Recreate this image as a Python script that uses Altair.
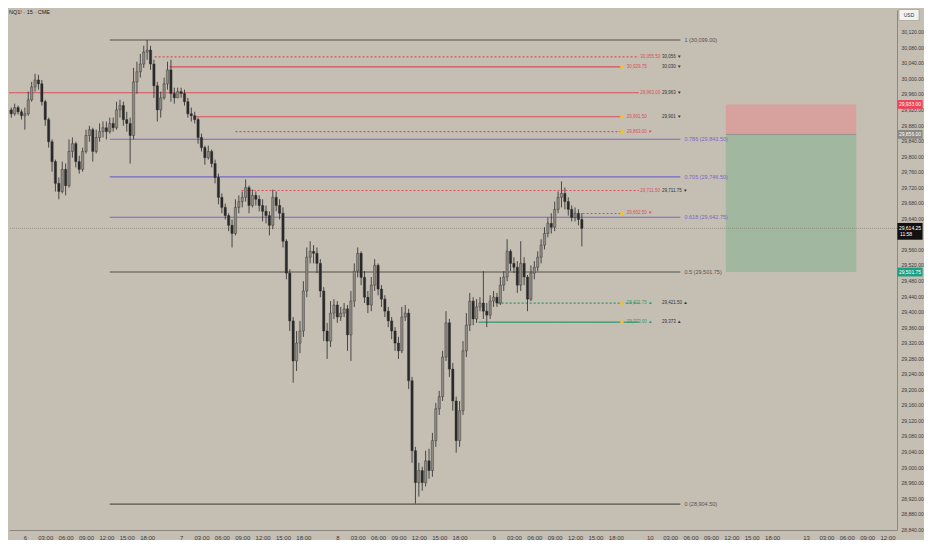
import json

import altair as alt
import pandas as pd

# ---- values -------------------------------------------------------------
# 30-min candles; x = trading hours since session "6" 00:00 (23h sessions)
bar_first_h = -2.5
bar_step_h = 0.5
first_open = 29909
bar_high = [
    29930, 29925, 29935, 29930, 29920, 29925, 29966, 29991, 30012, 30009,
    29996, 29945, 29899, 29843, 29791, 29745, 29786, 29781, 29843, 29848,
    29837, 29801, 29822, 29868, 29878, 29873, 29868, 29884, 29889, 29889,
    29899, 29899, 29940, 29945, 29940, 29914, 29899, 30027, 30043, 30063,
    30084, 30099, 30084, 30048, 29991, 29966, 30002, 30043, 30048, 29976,
    29976, 29976, 29971, 29950, 29925, 29914, 29899, 29858, 29827, 29827,
    29817, 29791, 29755, 29704, 29678, 29653, 29637, 29689, 29699, 29709,
    29740, 29724, 29714, 29709, 29699, 29689, 29673, 29658, 29714, 29709,
    29689, 29668, 29586, 29509, 29386, 29350, 29376, 29478, 29565, 29581,
    29571, 29565, 29535, 29463, 29371, 29427, 29432, 29427, 29412, 29422,
    29417, 29453, 29524, 29565, 29555, 29504, 29453, 29489, 29535, 29524,
    29468, 29442, 29412, 29386, 29360, 29335, 29412, 29417, 29407, 29232,
    29052, 29011, 29001, 29042, 29047, 29088, 29165, 29196, 29299, 29401,
    29381, 29268, 29181, 29170, 29324, 29396, 29448, 29437, 29432, 29437,
    29504, 29422, 29442, 29453, 29448, 29489, 29504, 29586, 29560, 29540,
    29530, 29581, 29540, 29494, 29519, 29530, 29555, 29586, 29617, 29642,
    29653, 29683, 29709, 29735, 29719, 29694, 29673, 29668, 29663, 29653,
]
bar_low = [
    29904, 29899, 29904, 29907, 29894, 29868, 29904, 29940, 29966, 29971,
    29930, 29878, 29822, 29760, 29709, 29689, 29704, 29699, 29719, 29796,
    29771, 29755, 29760, 29807, 29837, 29786, 29807, 29837, 29848, 29843,
    29858, 29863, 29868, 29899, 29878, 29863, 29781, 29843, 29961, 30002,
    30027, 30048, 30022, 29950, 29889, 29899, 29945, 29971, 29940, 29935,
    29950, 29950, 29930, 29899, 29889, 29884, 29832, 29812, 29778, 29791,
    29771, 29730, 29676, 29653, 29637, 29607, 29565, 29596, 29653, 29668,
    29683, 29653, 29668, 29673, 29658, 29632, 29627, 29596, 29612, 29658,
    29637, 29565, 29483, 29350, 29217, 29247, 29293, 29335, 29437, 29524,
    29524, 29499, 29437, 29324, 29278, 29309, 29381, 29371, 29376, 29386,
    29299, 29273, 29412, 29488, 29468, 29422, 29396, 29401, 29453, 29442,
    29412, 29386, 29360, 29329, 29299, 29278, 29293, 29376, 29201, 29011,
    28906, 28924, 28939, 28950, 28970, 28975, 29052, 29134, 29170, 29273,
    29232, 29145, 29037, 29052, 29134, 29283, 29350, 29365, 29371, 29401,
    29381, 29360, 29381, 29412, 29412, 29417, 29453, 29478, 29504, 29499,
    29448, 29453, 29468, 29401, 29427, 29483, 29504, 29524, 29560, 29591,
    29601, 29607, 29653, 29668, 29663, 29647, 29632, 29632, 29622, 29568,
]
bar_close = [
    29919, 29909, 29925, 29914, 29904, 29909, 29945, 29978, 29996, 29986,
    29940, 29894, 29837, 29786, 29730, 29709, 29766, 29724, 29812, 29832,
    29786, 29766, 29812, 29853, 29868, 29812, 29848, 29863, 29873, 29863,
    29884, 29873, 29919, 29930, 29894, 29884, 29853, 29991, 30017, 30037,
    30068, 30073, 30037, 29981, 29919, 29950, 29986, 30022, 29961, 29950,
    29966, 29961, 29940, 29909, 29904, 29894, 29848, 29822, 29796, 29812,
    29781, 29745, 29694, 29668, 29647, 29622, 29601, 29668, 29683, 29694,
    29719, 29673, 29699, 29689, 29673, 29658, 29647, 29622, 29694, 29673,
    29653, 29581, 29499, 29376, 29273, 29319, 29350, 29453, 29540, 29555,
    29550, 29524, 29453, 29350, 29324, 29396, 29417, 29386, 29396, 29407,
    29340, 29427, 29504, 29550, 29488, 29437, 29417, 29468, 29519, 29458,
    29432, 29401, 29376, 29350, 29319, 29299, 29386, 29396, 29222, 29042,
    28960, 28991, 28960, 29016, 28991, 29068, 29150, 29181, 29283, 29371,
    29252, 29170, 29068, 29145, 29299, 29365, 29427, 29381, 29412, 29422,
    29401, 29391, 29427, 29437, 29422, 29468, 29489, 29555, 29524, 29514,
    29468, 29524, 29489, 29432, 29499, 29514, 29540, 29571, 29601, 29627,
    29617, 29663, 29694, 29704, 29683, 29663, 29642, 29653, 29637, 29614.25,
]

fib_ratio = ["1", "0.786", "0.705", "0.618", "0.5", "0"]
fib_price = [30099.00, 29843.50, 29746.50, 29642.75, 29501.75, 28904.50]
fib_from_h, fib_to_h = 12.5, 96.5

level_price = [30055.50, 30029.75, 29963.00, 29901.50, 29863.00,
               29711.50, 29652.50, 29421.75, 29373.00]
level_from_h = [19.1, 21.3, -3.0, 24.9, 31.0, 31.9, 82.1, 69.6, 66.8]
level_to_h = [90.4, 87.8, 90.4, 87.8, 87.8, 90.4, 87.8, 90.4, 90.4]
level_side = ["sell"] * 7 + ["buy"] * 2
level_dotted = [True, False, False, False, True, True, True, True, False]
level_touched = [False, True, False, True, True, False, True, True, True]
level_tag = ["30,055.50", "30,029.75", "29,963.00", "29,901.50", "29,863.00 ▼",
             "29,711.50", "29,652.50 ▼", "29,421.75 ▲", "29,373.00 ▲"]
level_note = ["30,056 ▼", "30,030 ▼", "29,963 ▼", "29,901 ▼", "",
              "29,711.75 ▼", "", "29,421.50 ▲", "29,373 ▲"]

pos_from_h, pos_to_h = 103.2, 122.4
pos_stop, pos_entry, pos_target = 29933.00, 29856.00, 29501.75
last_price = 29614.25
countdown = "11:58"

day_labels = ["6", "7", "8", "9", "10", "13"]
hour_marks = [3, 6, 9, 12, 15, 18]
# 29,600 sits under the last-price tag in the reference, so it is not shown
price_ticks = [p for p in range(28840, 30121, 40) if p != 29600]

# ---- styling --------------------------------------------------------------
BG = "#c4beb3"
INK = "#2a2a2a"
UP = "#8f8a82"
RED = "#d9505b"
GREEN = "#2f9a6c"
PURPLE = "#7569c6"
FIBGREY = "#57534d"
FONT = "Liberation Sans"
W, H = 888, 520
X_DOM = [-1.6, 127.66]
Y_DOM = [28838, 30176]

XS = alt.Scale(domain=X_DOM, nice=False, zero=False)
YS = alt.Scale(domain=Y_DOM, nice=False, zero=False)

tick_h = [23 * d + hh for d in range(len(day_labels)) for hh in [0] + hour_marks]
tick_h = [t for t in tick_h if X_DOM[0] <= t <= X_DOM[1]]
label_expr = (
    f"datum.value % 23 == 0 ? {json.dumps(day_labels)}[floor(datum.value / 23)] : "
    "(datum.value % 23 < 10 ? '0' : '') + (datum.value % 23) + ':00'"
)
x_axis = alt.Axis(values=tick_h, labelExpr=label_expr, title=None, grid=False,
                  ticks=False, labelFontSize=6, labelColor="#3a3a3a", labelFont=FONT,
                  domainColor="#8d887f", labelPadding=4, labelFlush=False)
y_axis = alt.Axis(orient="right", values=price_ticks, format=",.2f", title=None,
                  grid=False, ticks=False, labelFontSize=5, labelColor="#3a3a3a",
                  labelFont=FONT, domainColor="#8d887f", labelPadding=4,
                  labelOverlap=False, labelFlush=False)


def X(field):
    return alt.X(field, type="quantitative", scale=XS, axis=x_axis)


def Y(field):
    return alt.Y(field, type="quantitative", scale=YS, axis=y_axis)


# ---- tables ----------------------------------------------------------------
n = len(bar_close)
candles = pd.DataFrame({
    "h": [bar_first_h + bar_step_h * i for i in range(n)],
    "open": [first_open] + bar_close[:-1],
    "close": bar_close,
    "high": bar_high,
    "low": bar_low,
})
candles["high"] = candles[["high", "open", "close"]].max(axis=1)
candles["low"] = candles[["low", "open", "close"]].min(axis=1)

fibs = pd.DataFrame({"ratio": fib_ratio, "price": fib_price})
fibs["x0"], fibs["x1"], fibs["xl"] = fib_from_h, fib_to_h, fib_to_h + 0.6
fibs["label"] = [f"{r} ({p:,.2f})" for r, p in zip(fib_ratio, fib_price)]
fibs["col"] = [PURPLE if r in ("0.786", "0.705", "0.618") else FIBGREY for r in fib_ratio]

levels = pd.DataFrame({
    "price": level_price, "x0": level_from_h, "x1": level_to_h,
    "side": level_side, "dotted": level_dotted, "touched": level_touched,
    "tag": level_tag, "note": level_note,
})
levels["col"] = levels["side"].map({"sell": RED, "buy": GREEN})
levels["dot_h"] = 87.9
levels["tag_h"] = [88.6 if t else 90.6 for t in level_touched]
levels["note_h"] = 93.8

boxes = pd.DataFrame({
    "x0": [pos_from_h, pos_from_h], "x1": [pos_to_h, pos_to_h],
    "lo": [pos_entry, pos_target], "hi": [pos_stop, pos_entry],
    "col": ["#d7a29e", "#a1b7a0"],
})

badges = pd.DataFrame({
    "price": [pos_stop, pos_entry, last_price, pos_target],
    "col": ["#ee4459", "#8c8a86", "#121212", "#1f9e80"],
})
badges["label"] = [f"{p:,.2f}" for p in badges["price"]]

# ---- layers ---------------------------------------------------------------
box_layer = alt.Chart(boxes).mark_rect().encode(
    x=X("x0"), x2="x1:Q", y=Y("lo"), y2="hi:Q",
    color=alt.Color("col:N", scale=None))
entry_rule = alt.Chart(pd.DataFrame({"x0": [pos_from_h], "x1": [pos_to_h], "p": [pos_entry]})
                       ).mark_rule(color="#8c8a86", strokeWidth=0.8).encode(
    x=X("x0"), x2="x1:Q", y=Y("p"))

fib_rules = alt.Chart(fibs).mark_rule(strokeWidth=1.1).encode(
    x=X("x0"), x2="x1:Q", y=Y("price"), color=alt.Color("col:N", scale=None))
fib_text = alt.Chart(fibs).mark_text(align="left", baseline="middle", fontSize=5.5,
                                     font=FONT).encode(
    x=X("xl"), y=Y("price"), text="label:N", color=alt.Color("col:N", scale=None))

level_rules = alt.Chart(levels).mark_rule(strokeWidth=1.1, clip=True).encode(
    x=X("x0"), x2="x1:Q", y=Y("price"),
    color=alt.Color("col:N", scale=None),
    strokeDash=alt.condition("datum.dotted", alt.value([2, 2]), alt.value([1, 0])))
level_dots = alt.Chart(levels).transform_filter("datum.touched").mark_point(
    filled=True, size=14, opacity=1, color="#f0c232").encode(x=X("dot_h"), y=Y("price"))
level_tags = alt.Chart(levels).mark_text(align="left", baseline="middle", fontSize=4.5,
                                         font=FONT).encode(
    x=X("tag_h"), y=Y("price"), text="tag:N", color=alt.Color("col:N", scale=None))
level_notes = alt.Chart(levels).mark_text(align="left", baseline="middle", fontSize=4.5,
                                          font=FONT, color="#333333").encode(
    x=X("note_h"), y=Y("price"), text="note:N")

price_line = alt.Chart(pd.DataFrame({"p": [last_price]})).mark_rule(
    color="#7d796f", strokeWidth=0.6, strokeDash=[1, 1]).encode(y=Y("p"))

wicks = alt.Chart(candles).mark_rule(color=INK, strokeWidth=0.8, clip=True).encode(
    x=X("h"), y=Y("low"), y2="high:Q")
bodies = alt.Chart(candles).mark_bar(size=2.3, clip=True, stroke=INK, strokeWidth=0.4).encode(
    x=X("h"), y=Y("open"), y2="close:Q",
    color=alt.condition("datum.close >= datum.open", alt.value(UP), alt.value(INK)))

tag_shape = "M-1.2,-0.42H1.2V0.42H-1.2Z"
badge_box = alt.Chart(badges).transform_filter(f"datum.price != {last_price}").mark_point(
    shape=tag_shape, size=441, filled=True, opacity=1).encode(
    x=alt.value(W + 13), y=Y("price"), color=alt.Color("col:N", scale=None))
last_box = alt.Chart(badges).transform_filter(f"datum.price == {last_price}").mark_point(
    shape="M-1.2,-0.8H1.2V0.8H-1.2Z", size=441, filled=True, opacity=1, yOffset=3).encode(
    x=alt.value(W + 13), y=Y("price"), color=alt.Color("col:N", scale=None))
badge_text = alt.Chart(badges).mark_text(fontSize=5, font=FONT, color="white",
                                         baseline="middle").encode(
    x=alt.value(W + 13), y=Y("price"), text="label:N")
countdown_text = alt.Chart(pd.DataFrame({"p": [last_price], "t": [countdown]})).mark_text(
    fontSize=5, font=FONT, color="white", baseline="middle", dy=6, align="left").encode(
    x=alt.value(W + 3), y=Y("p"), text="t:N")

usd = alt.Chart(pd.DataFrame({"t": ["USD"]}))
usd_box = usd.mark_point(shape="M-1,-0.55H1V0.55H-1Z", size=400, filled=True, opacity=1,
                         color="#f4f2ee", stroke="#8d887f", strokeWidth=0.5).encode(
    x=alt.value(W + 12), y=alt.value(5))
usd_text = usd.mark_text(fontSize=5, font=FONT, color="#333333").encode(
    x=alt.value(W + 12), y=alt.value(5), text="t:N")

title = alt.Chart(pd.DataFrame({"t": ["NQ1! · 15 · CME"]})).mark_text(
    align="left", baseline="top", fontSize=5.5, font=FONT, color="#222222").encode(
    x=alt.value(0), y=alt.value(0), text="t:N")

chart = alt.layer(
    box_layer, entry_rule, fib_rules, level_rules, price_line, wicks, bodies,
    fib_text, level_dots, level_tags, level_notes,
    badge_box, last_box, badge_text, countdown_text, usd_box, usd_text, title,
).properties(width=W, height=H, background=BG, padding=0).configure_view(
    stroke=None, fill=BG)

chart.save("out.html", embed_options={"renderer": "svg", "actions": False})
